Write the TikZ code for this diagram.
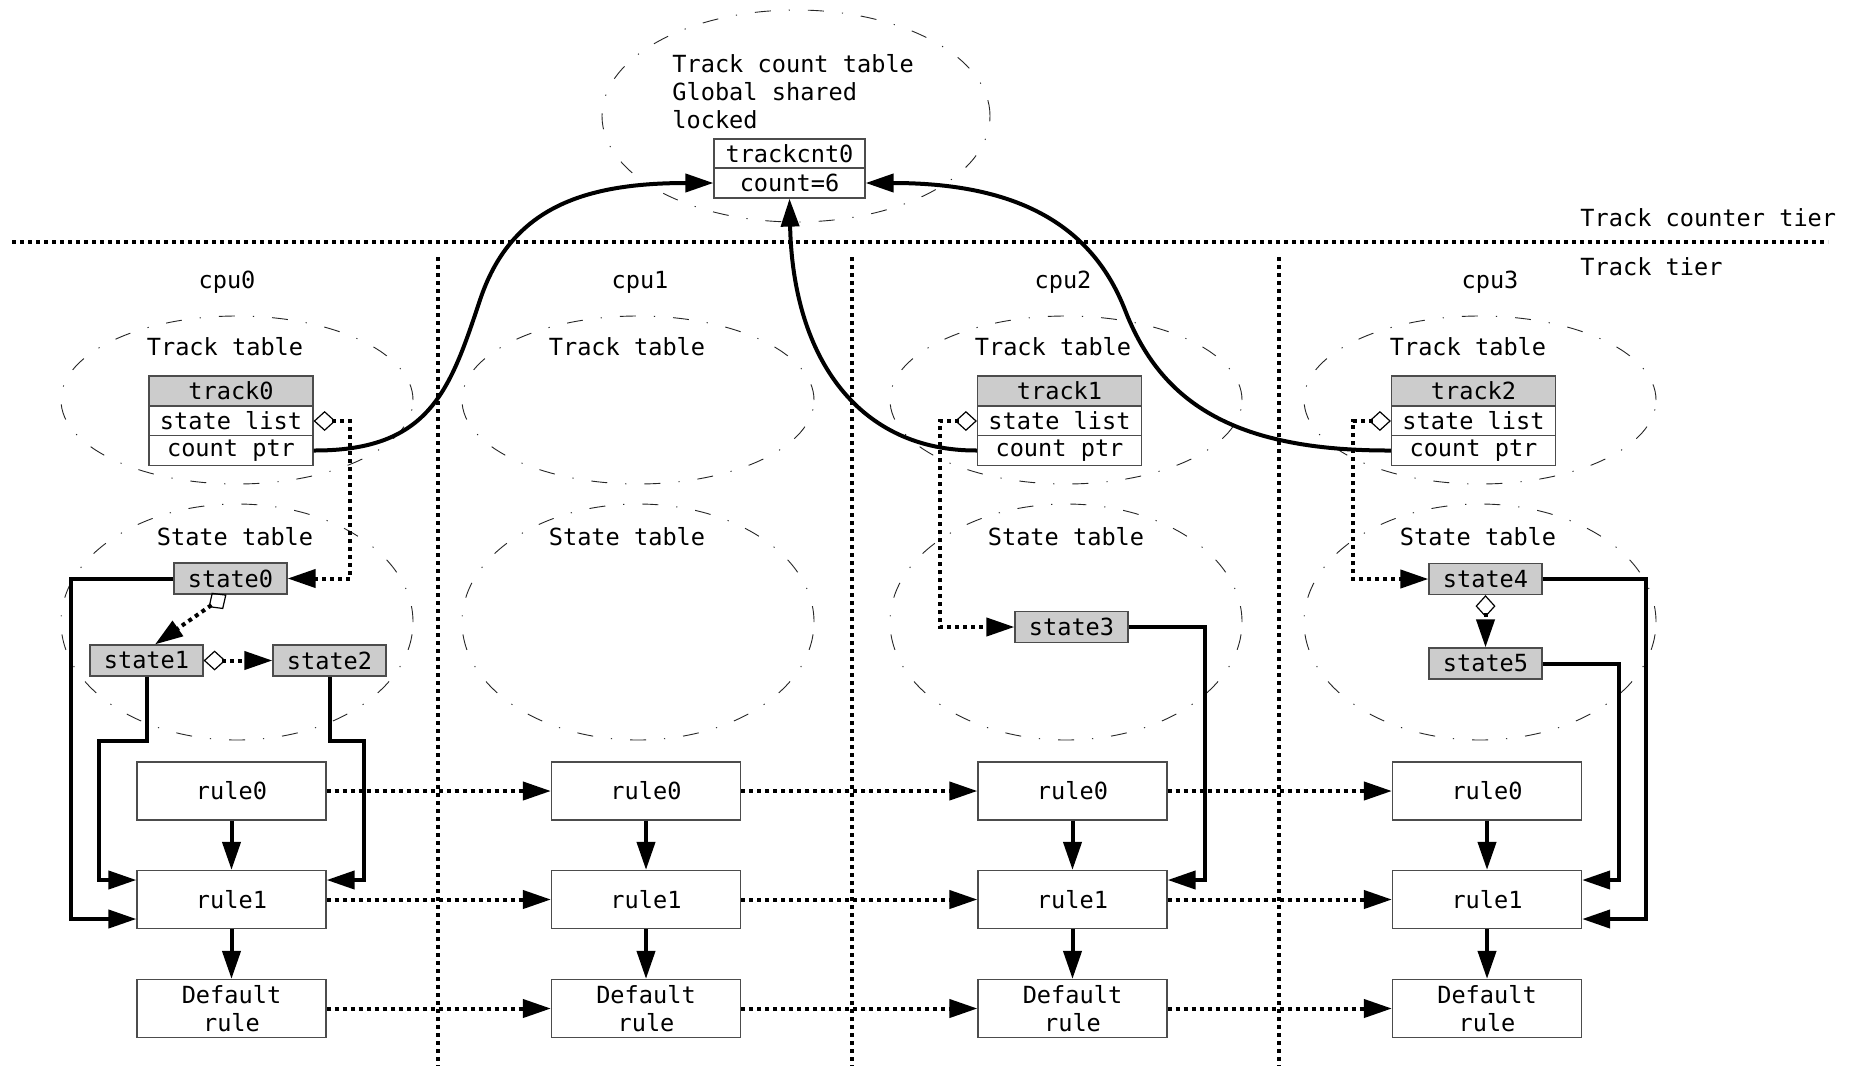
\documentclass[tikz,border=0pt]{standalone}
\usepackage{fontspec}
\setmonofont{DejaVu Sans Mono}
\usetikzlibrary{arrows.meta}
\begin{document}
\begin{tikzpicture}[x=0.5pt,y=-0.5pt,
  every node/.style={font=\ttfamily\fontsize{11.8pt}{14pt}\selectfont, inner sep=0pt},
  lbl/.style={anchor=base},
  lblw/.style={anchor=base west},
  cell/.style={draw=black!70, line width=0.6pt, fill=white, minimum height=15pt},
  hdr/.style={cell, fill=black!20},
  statebox/.style={draw=black!70, line width=0.6pt, fill=black!20, minimum width=56.5pt, minimum height=15.5pt},
  rulebox/.style={draw=black!70, line width=0.6pt, fill=white, minimum width=94.5pt, minimum height=29pt, align=center},
  oval/.style={draw=black!85, line width=0.45pt, dash pattern=on 8pt off 9pt on 0.6pt off 9pt},
  solidarr/.style={line width=2pt, -{Triangle[length=14pt,width=9pt]}},
  dotarr/.style={line width=2pt, line cap=butt, dash pattern=on 2pt off 2pt, -{Triangle[length=14pt,width=9pt]}},
  dlink/.style={line width=2pt, line cap=butt, dash pattern=on 2pt off 2pt, {Diamond[open,length=11pt,width=10pt,line width=0.6pt]}-{Triangle[length=14pt,width=9pt]}},
  sep/.style={line width=2pt, line cap=butt, dash pattern=on 2pt off 2pt}
]
\useasboundingbox (0,0) rectangle (1856,1066);
\fill[white] (0,0) rectangle (1856,1066);

% separators
\coordinate (hs1) at (12,242); \coordinate (hs2) at (1828,242);
\draw[sep] (hs1) -- (hs2);
\foreach \i/\x in {1/438,2/852,3/1279}{
  \coordinate (vt\i) at (\x,257); \coordinate (vb\i) at (\x,1066);
  \draw[sep] (vt\i) -- (vb\i);
}
\node[lblw] (tctier) at (1580,226) {Track counter tier};
\node[lblw] (ttier) at (1580,275) {Track tier};

% top count table
\draw[oval] (796,116) ellipse [x radius=97pt, y radius=53pt];
\node[lblw] (ct1) at (672,72) {Track count table};
\node[lblw] (ct2) at (672,100) {Global shared};
\node[lblw] (ct3) at (672,128) {locked};
\node[cell, minimum width=75.5pt, minimum height=14.5pt] (cnthead) at (789.5,153.5) {trackcnt0};
\node[cell, minimum width=75.5pt, minimum height=15pt] (cntval) at (789.5,183) {count=6};

% columns
\foreach \i/\e/\tt/\st/\cp/\r in {0/237/225/235/227/231.5, 1/638/627/627/640/646, 2/1066/1053/1066/1063/1072.5, 3/1480/1468/1478/1490/1487}{
  \draw[oval] (\e,400) ellipse [x radius=88pt, y radius=42pt];
  \draw[oval] (\e,622) ellipse [x radius=88pt, y radius=59pt];
  \node[lbl] (cpu\i) at (\cp,288) {cpu\i};
  \node[lbl] (tt\i) at (\tt,355) {Track table};
  \node[lbl] (st\i) at (\st,545) {State table};
  \node[rulebox] (ra\i) at (\r,791) {rule0};
  \node[rulebox] (rb\i) at (\r,899.5) {rule1};
  \node[rulebox] (rd\i) at (\r,1008.5) {Default\\rule};
  \draw[solidarr] (ra\i) -- (rb\i);
  \draw[solidarr] (rb\i) -- (rd\i);
}
\foreach \i/\j in {0/1,1/2,2/3}{
  \draw[dotarr] (ra\i.east) -- (ra\j.west);
  \draw[dotarr] (rb\i.east) -- (rb\j.west);
  \draw[dotarr] (rd\i.east) -- (rd\j.west);
}

% track tables
\foreach \n/\x in {0/231, 1/1059.5, 2/1473.5}{
  \node[hdr, minimum width=82pt] (th\n) at (\x,391) {track\n};
  \node[cell, minimum width=82pt] (ts\n) at (\x,421) {state list};
  \node[cell, minimum width=82pt] (tc\n) at (\x,450.5) {count ptr};
}

% states
\node[statebox] (s0) at (230.5,578.5) {state0};
\node[statebox] (s1) at (146.5,660.5) {state1};
\node[statebox] (s2) at (329.5,660.5) {state2};
\node[statebox] (s3) at (1071.5,627) {state3};
\node[statebox] (s4) at (1485.5,579) {state4};
\node[statebox] (s5) at (1485.5,663.5) {state5};

% column 0 links
\coordinate (K0a) at (350,421); \coordinate (K0b) at (350,578.5);
\draw[dlink] (ts0.east) -- (K0a) -- (K0b) -- (s0.east);
\draw[dlink] ([xshift=-2pt]s0.south) -- ([xshift=4.25pt]s1.north);
\draw[dlink] (s1.east) -- (s2.west);
\coordinate (L0) at (71,919);
\draw[solidarr] (s0.west) -| (L0) -- (rb0.west |- L0);
\coordinate (L1) at (99,741); \coordinate (L1b) at (99,880);
\draw[solidarr] (s1.south) -- (s1.south |- L1) -- (L1) -- (L1b) -- (rb0.west |- L1b);
\coordinate (R2) at (364,741); \coordinate (R2b) at (364,880);
\draw[solidarr] (s2.south) -- (s2.south |- R2) -- (R2) -- (R2b) -- (rb0.east |- R2b);

% column 2 links
\coordinate (K1) at (940,627);
\draw[dlink] (ts1.west) -| (K1) -- (s3.west);
\coordinate (R3) at (1205,880);
\draw[solidarr] (s3.east) -| (R3) -- (rb2.east |- R3);

% column 3 links
\coordinate (K2) at (1353,579);
\draw[dlink] (ts2.west) -| (K2) -- (s4.west);
\draw[dlink] (s4.south) -- (s5.north);
\coordinate (R4) at (1646,919);
\draw[solidarr] (s4.east) -| (R4) -- (rb3.east |- R4);
\coordinate (R5) at (1619,880);
\draw[solidarr] (s5.east) -| (R5) -- (rb3.east |- R5);

% count pointers
\draw[solidarr] (tc0.east) .. controls (430,451) and (450,390) .. (480,300) .. controls (510,210) and (580,183) .. (cntval.west);
\draw[solidarr] (tc1.west) .. controls (860,451) and (793,360) .. (cntval.south);
\draw[solidarr] (tc2.west) .. controls (1230,451) and (1160,400) .. (1125,310) .. controls (1090,220) and (1010,183) .. (cntval.east);
\end{tikzpicture}
\end{document}
